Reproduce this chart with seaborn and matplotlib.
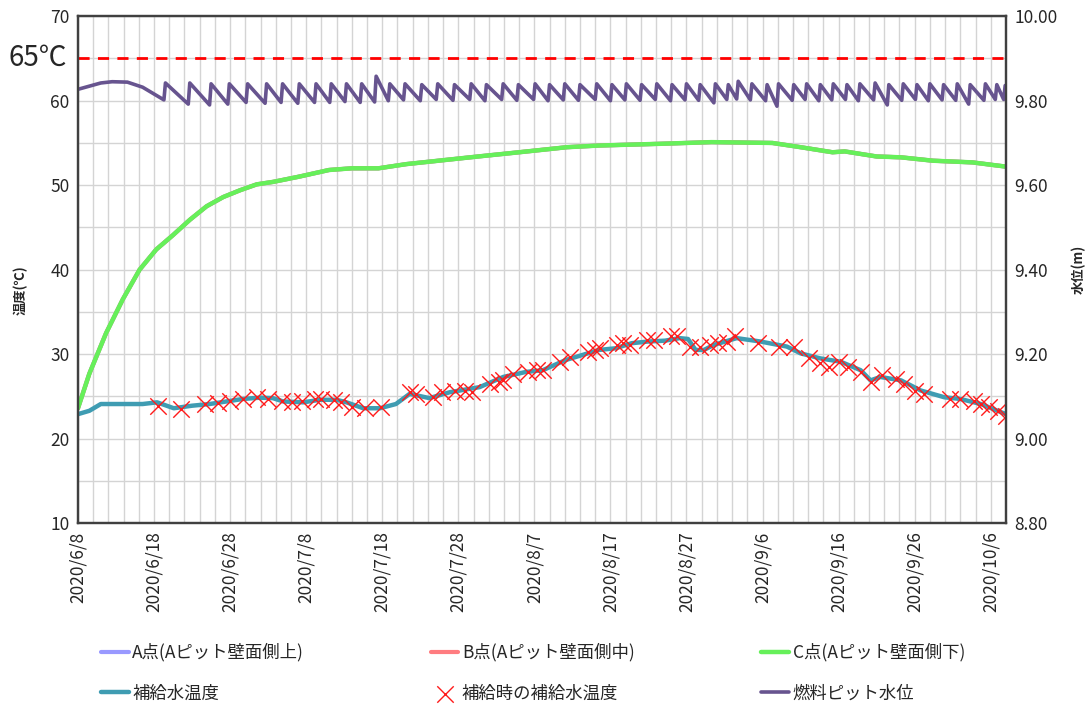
import numpy as np
import pandas as pd
import matplotlib
matplotlib.use("Agg")
import matplotlib.pyplot as plt
from matplotlib.ticker import FixedLocator, MultipleLocator, FormatStrFormatter, NullFormatter
import seaborn as sns

# 日付は 2020/6/8 からの経過日数で持つ
start = pd.Timestamp("2020-06-08")
end_day = 122

tick_labels = ["2020/6/8", "2020/6/18", "2020/6/28", "2020/7/8", "2020/7/18", "2020/7/28",
               "2020/8/7", "2020/8/17", "2020/8/27", "2020/9/6", "2020/9/16", "2020/9/26",
               "2020/10/6"]

# C点(Aピット壁面側下)
c_days = [0, 1.5, 3.7, 5.9, 8.1, 10.3, 12.5, 14.7, 16.9, 19.1, 21.3, 23.5, 25.7, 29, 33, 36,
          39.5, 43.2, 47.4, 52.6, 58, 64.3, 68.6, 76.5, 83.3, 91.3, 95, 99.2, 100.8, 105,
          108.2, 112.4, 117.6, 122]
c_temp = [23.6, 27.7, 32.5, 36.5, 40.0, 42.4, 44.1, 45.9, 47.5, 48.6, 49.4, 50.1, 50.4, 51.0,
          51.8, 52.0, 52.0, 52.5, 52.9, 53.4, 53.9, 54.5, 54.7, 54.9, 55.1, 55.0, 54.5, 53.9,
          54.0, 53.4, 53.3, 52.9, 52.7, 52.2]
# A点・B点はC点の線の下に隠れていて見えない
a_temp = c_temp
b_temp = c_temp

# 補給水温度
w_days = [0, 1.5, 3, 8.5, 10.4, 12.6, 15, 17.3, 19.5, 21.7, 23.9, 25.6, 27, 29.6, 31.8, 34,
          35.3, 37.5, 39.7, 41.8, 43.6, 46.2, 48.9, 52.8, 55.9, 58.9, 61.1, 64.1, 66.3, 68.5,
          70.7, 72.8, 75, 77.2, 79.1, 80.2, 81.2, 82.3, 83.6, 86.6, 89.7, 93.2, 95, 97.6,
          100.3, 102.9, 104.2, 105.5, 108.2, 110.8, 113.9, 116, 118.7, 122]
w_temp = [22.9, 23.3, 24.1, 24.1, 24.3, 23.6, 23.9, 24.1, 24.4, 24.7, 24.85, 24.8, 24.4, 24.3,
          24.6, 24.6, 24.3, 23.6, 23.6, 24.1, 25.3, 24.8, 25.5, 26.1, 27.3, 27.9, 28.1, 29.3,
          29.9, 30.5, 30.7, 31.3, 31.5, 31.6, 31.9, 31.8, 30.5, 30.5, 31.1, 31.9, 31.5, 30.9,
          30.1, 29.5, 29.1, 28.1, 26.9, 27.3, 26.9, 25.7, 24.9, 24.7, 24.1, 22.9]

# 補給時の補給水温度
x_days = [10.5, 13.6, 16.7, 18.4, 20.0, 21.7, 23.5, 25.0, 26.8, 28.1, 29.4, 31.1, 32.0, 33.6,
          34.6, 36.0, 37.8, 39.8, 43.6, 44.5, 46.7, 47.8, 49.6, 50.9, 51.8, 54.2, 55.3, 55.9,
          57.2, 59.2, 60.3, 61.2, 63.4, 64.7, 67.1, 68.0, 68.6, 70.8, 71.7, 72.6, 74.8, 75.7,
          77.9, 78.7, 80.5, 81.8, 83.1, 84.2, 85.3, 86.4, 89.4, 92.1, 94.1, 96.1, 97.6, 98.7,
          100.0, 101.3, 102.9, 104.2, 105.7, 107.5, 108.6, 110.1, 111.2, 114.7, 116.0, 117.8,
          118.7, 119.8, 120.9, 122.0]
x_temp = [23.9, 23.5, 24.1, 24.2, 24.4, 24.7, 24.9, 24.7, 24.4, 24.3, 24.4, 24.7, 24.7, 24.6,
          24.3, 23.8, 23.6, 23.8, 25.5, 25.3, 24.9, 25.5, 25.7, 25.7, 25.5, 26.5, 26.7, 26.9,
          27.7, 27.9, 28.1, 28.1, 29.1, 29.7, 30.3, 30.5, 30.7, 31.1, 31.3, 31.1, 31.7, 31.7,
          32.1, 32.1, 30.9, 30.9, 31.1, 31.3, 31.5, 32.1, 31.3, 30.9, 30.9, 29.5, 28.9, 28.5,
          29.1, 28.5, 27.9, 26.7, 27.5, 27.1, 26.5, 25.7, 25.3, 24.7, 24.7, 24.5, 24.1, 23.7,
          23.3, 22.7]

# 燃料ピット水位(m): 補給開始前と各補給(補給日, 補給直前, 補給直後)
lvl_pre_days = [0, 3, 4.5, 6.5, 8.5]
lvl_pre_vals = [9.827, 9.842, 9.845, 9.844, 9.832]
refill_days = [11.3, 14.5, 17.3, 19.7, 22.1, 24.6, 26.7, 28.9, 31.1, 33.1, 35.1, 37.1, 39.0,
               40.8, 42.8, 45.0, 47.1, 49.3, 51.5, 53.5, 55.7, 57.7, 59.9, 61.8, 63.8, 65.8,
               68.0, 70.0, 71.9, 73.9, 75.9, 77.9, 79.8, 81.6, 83.6, 85.3, 86.6, 88.4, 90.4,
               91.9, 93.9, 95.6, 97.4, 99.1, 100.9, 102.6, 104.6, 106.4, 108.3, 110.1, 111.8,
               113.6, 115.4, 117.1, 119.1, 120.6, 121.7]
refill_low = [9.802, 9.792, 9.790, 9.792, 9.796, 9.794, 9.796, 9.794, 9.796, 9.796, 9.798,
              9.796, 9.797, 9.800, 9.802, 9.800, 9.803, 9.801, 9.803, 9.800, 9.803, 9.801,
              9.803, 9.800, 9.802, 9.801, 9.803, 9.800, 9.802, 9.801, 9.803, 9.800, 9.802,
              9.801, 9.795, 9.803, 9.804, 9.802, 9.800, 9.787, 9.801, 9.803, 9.800, 9.802,
              9.803, 9.800, 9.802, 9.790, 9.801, 9.803, 9.800, 9.802, 9.801, 9.792, 9.801,
              9.803, 9.803]
refill_high = [9.842, 9.842, 9.840, 9.840, 9.840, 9.840, 9.840, 9.840, 9.840, 9.840, 9.840,
               9.840, 9.858, 9.840, 9.840, 9.838, 9.840, 9.838, 9.840, 9.838, 9.840, 9.838,
               9.840, 9.838, 9.840, 9.838, 9.840, 9.838, 9.840, 9.838, 9.840, 9.838, 9.840,
               9.838, 9.840, 9.838, 9.846, 9.840, 9.838, 9.840, 9.838, 9.840, 9.838, 9.840,
               9.838, 9.840, 9.842, 9.838, 9.840, 9.838, 9.840, 9.838, 9.840, 9.838, 9.840,
               9.838, 9.836]

limit_temp = 65


def to_dates(days):
    return start + pd.to_timedelta(np.asarray(days, dtype=float), unit="D")


# 水位の線(のこぎり波)を組み立てる
lvl_days = list(lvl_pre_days)
lvl_vals = list(lvl_pre_vals)
for d, lo, hi in zip(refill_days, refill_low, refill_high):
    lvl_days += [d, d + 0.2]
    lvl_vals += [lo, hi]

sns.set_style("white")
plt.rcParams["font.family"] = ["Noto Sans CJK JP", "DejaVu Sans"]

fig = plt.figure(figsize=(10.92, 7.06), dpi=100)
ax = fig.add_axes([0.0714, 0.259, 0.8498, 0.718])
ax2 = ax.twinx()

col_a = "#9999ff"
col_b = "#ff7c80"
col_c = "#66f05a"
col_w = "#3f9cb2"
col_lvl = "#67548f"

sns.lineplot(x=to_dates(c_days), y=a_temp, ax=ax, color=col_a, lw=3, label="A点(Aピット壁面側上)")
sns.lineplot(x=to_dates(c_days), y=b_temp, ax=ax, color=col_b, lw=3, label="B点(Aピット壁面側中)")
sns.lineplot(x=to_dates(c_days), y=c_temp, ax=ax, color=col_c, lw=3.2, label="C点(Aピット壁面側下)")
sns.lineplot(x=to_dates(w_days), y=w_temp, ax=ax, color=col_w, lw=3.2, label="補給水温度")
sns.scatterplot(x=to_dates(x_days), y=x_temp, ax=ax, marker="x", s=140, color="#ff1a1a",
                linewidth=1.0, label="補給時の補給水温度", zorder=5)
sns.lineplot(x=to_dates(lvl_days), y=lvl_vals, ax=ax2, color=col_lvl, lw=2.6,
             sort=False, estimator=None, label="燃料ピット水位")
ax.axhline(limit_temp, color="#ff0000", lw=2, ls=(0, (4, 3)), zorder=4)

for a in (ax, ax2):
    if a.get_legend() is not None:
        a.get_legend().remove()

# 軸
ax.set_xlim(start, start + pd.Timedelta(days=end_day))
ax.xaxis.set_major_locator(FixedLocator(matplotlib.dates.date2num(pd.to_datetime(tick_labels))))
ax.set_xticklabels(tick_labels, rotation=90, fontsize=12.5)
ax.xaxis.set_minor_locator(FixedLocator(matplotlib.dates.date2num(
    pd.date_range(start, periods=end_day // 2 + 1, freq="2D"))))
ax.xaxis.set_minor_formatter(NullFormatter())

ax.set_ylim(10, 70)
ax.yaxis.set_major_locator(MultipleLocator(10))
ax.yaxis.set_minor_locator(MultipleLocator(5))
ax.tick_params(axis="y", labelsize=12.5)
ax.tick_params(which="both", length=0, pad=6)

ax2.set_ylim(8.8, 10.0)
ax2.yaxis.set_major_locator(MultipleLocator(0.2))
ax2.yaxis.set_major_formatter(FormatStrFormatter("%.2f"))
ax2.tick_params(axis="y", labelsize=12.5, length=0, pad=6)

ax.grid(True, which="both", color="#d4d4d4", lw=1)
ax2.grid(False)
for a in (ax, ax2):
    for s in a.spines.values():
        s.set_color("#404040")
        s.set_linewidth(1.6)

ax.set_xlabel("")
ax.set_ylabel("温度(℃)", fontsize=9.5, fontweight="bold")
ax.yaxis.set_label_coords(-0.054, 0.46)
ax2.set_ylabel("水位(m)", fontsize=9.5, fontweight="bold")
ax2.yaxis.set_label_coords(1.071, 0.5)

fig.text(0.035, 0.918, "65℃", fontsize=20, ha="center", va="center")

h1, l1 = ax.get_legend_handles_labels()
h2, l2 = ax2.get_legend_handles_labels()
handles = dict(zip(l1 + l2, h1 + h2))
order = ["A点(Aピット壁面側上)", "補給水温度", "B点(Aピット壁面側中)",
         "補給時の補給水温度", "C点(Aピット壁面側下)", "燃料ピット水位"]
fig.legend([handles[k] for k in order], order, ncol=3, loc="upper left",
           bbox_to_anchor=(0.078, 0.101, 0.82, 0.01), mode="expand", frameon=False,
           fontsize=12.5, labelspacing=1.3, handlelength=1.6, handletextpad=0.2)

fig.savefig("out.png", dpi=100)
